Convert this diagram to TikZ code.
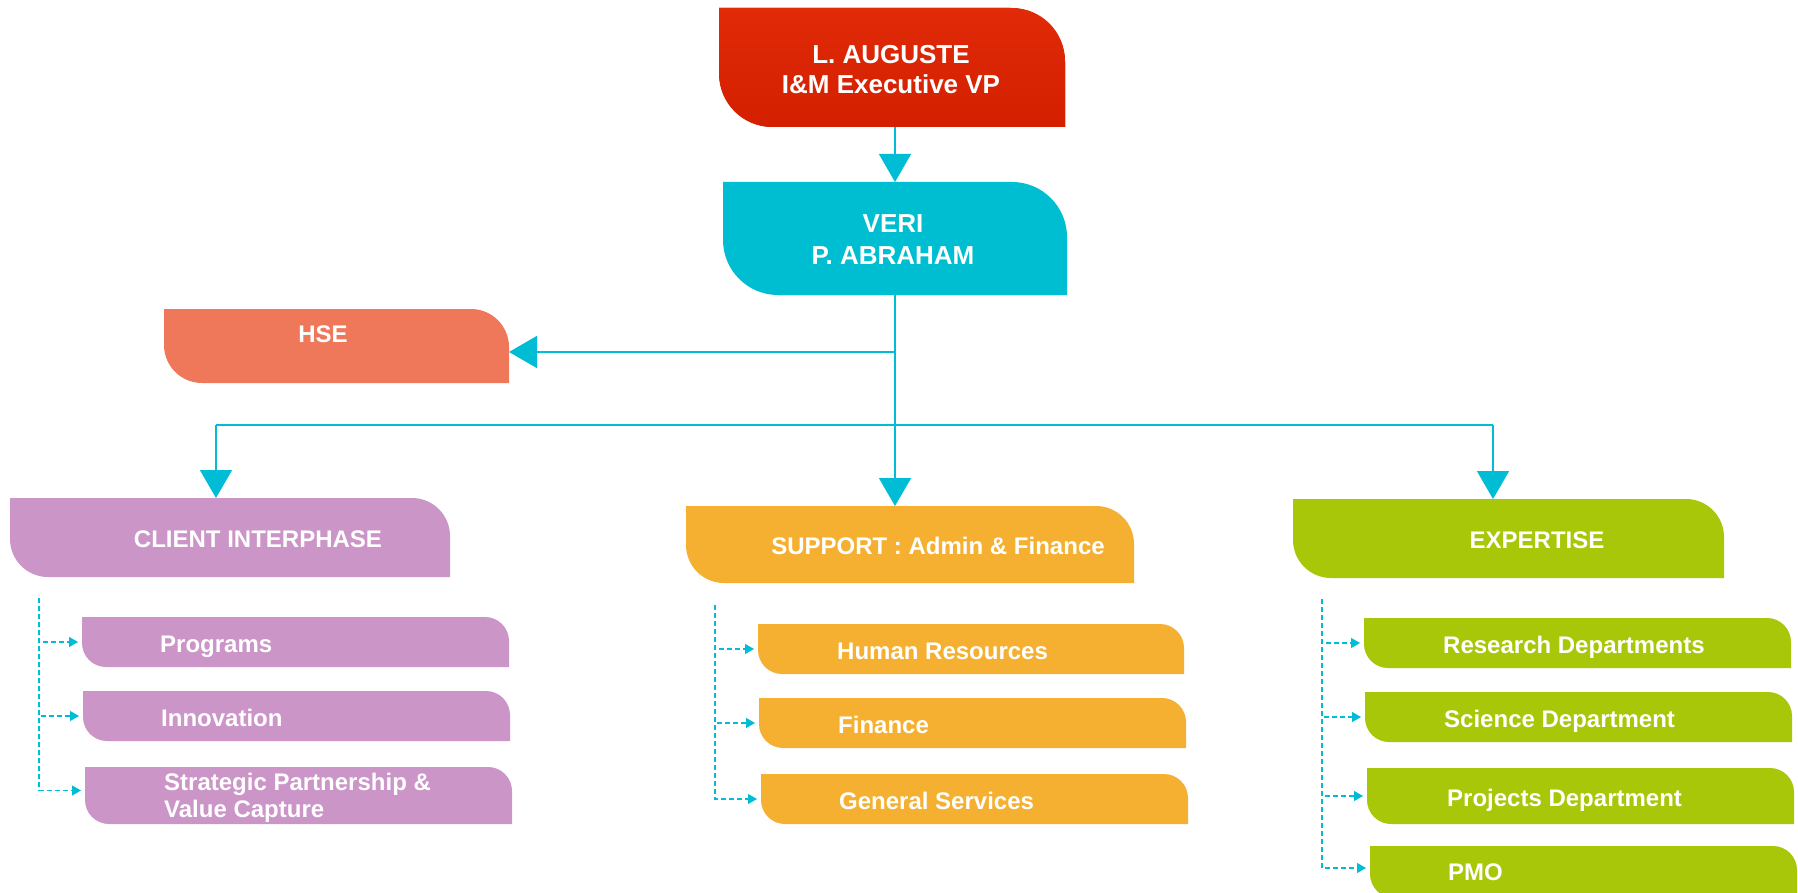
\documentclass[tikz,border=0pt]{standalone}
\usepackage{fontspec}
\setmainfont{Liberation Sans}
\usetikzlibrary{arrows.meta,calc}
\definecolor{cyanline}{HTML}{00BCD4}
\definecolor{redtop}{HTML}{E02A08}
\definecolor{redmid}{HTML}{D42000}
\definecolor{redbot}{HTML}{B81800}
\definecolor{cyanbox}{HTML}{00BED2}
\definecolor{hsebox}{HTML}{F0785A}
\definecolor{purplebox}{HTML}{CC95C8}
\definecolor{orangebox}{HTML}{F5B031}
\definecolor{greenbox}{HTML}{A8C708}
\newcommand\bx[5]{%
  \pgfmathsetmacro\bxcx{(#2+#4)/2}\pgfmathsetmacro\bxcy{(#3+#5)/2}%
  \pgfmathsetmacro\bxw{#4-#2}\pgfmathsetmacro\bxh{#5-#3}%
  \node[boxnode, minimum width=\bxw pt, minimum height=\bxh pt] (#1) at (\bxcx,\bxcy) {};}
\newcommand\orgshape[3]{%
  \path[#3] (#1.north west) -- ([xshift=-#2]#1.north east)
    .. controls ([xshift=-0.448*#2]#1.north east) and ([yshift=-0.448*#2]#1.north east) ..
    ([yshift=-#2]#1.north east) -- (#1.south east) -- ([xshift=#2]#1.south west)
    .. controls ([xshift=0.448*#2]#1.south west) and ([yshift=0.448*#2]#1.south west) ..
    ([yshift=#2]#1.south west) -- cycle;}
\begin{document}
\begin{tikzpicture}[x=1pt,y=-1pt,
  boxnode/.style={inner sep=0pt, outer sep=0pt, draw=none},
  txt/.style={text=white, inner sep=0pt, font=\fontsize{24}{27}\selectfont\bfseries},
  bigtxt/.style={text=white, inner sep=0pt, font=\fontsize{26}{30}\selectfont\bfseries},
  conn/.style={draw=cyanline, line width=1.6pt},
  bigarrow/.style={draw=cyanline, line width=1.6pt, -{Triangle[width=32pt,length=28pt]}},
  dashconn/.style={draw=cyanline, line width=1.2pt, dash pattern=on 5pt off 3pt,
     -{Triangle[width=10pt,length=9pt]}, shorten >=4pt}]
\useasboundingbox (0,0) rectangle (1798,893);
\fill[white] (0,0) rectangle (1798,893);
% boxes
\bx{red}{719}{8}{1065}{127}
\bx{cyan}{723}{182}{1067}{295}
\bx{hse}{164}{309}{509}{383}
\bx{client}{10}{498}{450}{577}
\bx{support}{686}{506}{1134}{583}
\bx{expertise}{1293}{499}{1724}{578}
\bx{programs}{82}{617}{509}{667}
\bx{innovation}{83}{691}{510}{741}
\bx{strategic}{85}{767}{512}{824}
\bx{hr}{758}{624}{1184}{674}
\bx{finance}{759}{698}{1186}{748}
\bx{gs}{761}{774}{1188}{824}
\bx{research}{1364}{618}{1791}{668}
\bx{science}{1365}{692}{1792}{742}
\bx{projects}{1367}{768}{1794}{824}
\bx{pmo}{1370}{846}{1797}{898}
% shapes
\begin{scope}[xshift=3pt,yshift=-5pt]
\orgshape{red}{55pt}{fill=black, opacity=0.18}
\end{scope}
\begin{scope}[xshift=1.5pt,yshift=-2.5pt]
\orgshape{red}{55pt}{fill=black, opacity=0.18}
\end{scope}
\orgshape{red}{55pt}{fill=redbot}
\begin{scope}[yshift=3pt]
\orgshape{red}{53pt}{top color=redtop, bottom color=redmid}
\end{scope}
\orgshape{cyan}{55pt}{fill=cyanbox}
\orgshape{hse}{38pt}{fill=hsebox}
\orgshape{client}{38pt}{fill=purplebox}
\orgshape{support}{38pt}{fill=orangebox}
\orgshape{expertise}{38pt}{fill=greenbox}
\orgshape{programs}{24pt}{fill=purplebox}
\orgshape{innovation}{24pt}{fill=purplebox}
\orgshape{strategic}{24pt}{fill=purplebox}
\orgshape{hr}{24pt}{fill=orangebox}
\orgshape{finance}{24pt}{fill=orangebox}
\orgshape{gs}{24pt}{fill=orangebox}
\orgshape{research}{24pt}{fill=greenbox}
\orgshape{science}{24pt}{fill=greenbox}
\orgshape{projects}{24pt}{fill=greenbox}
\orgshape{pmo}{24pt}{fill=greenbox}
% texts
\node[bigtxt, anchor=base] (redA) at (891,63.5) {L. AUGUSTE};
\node[bigtxt, anchor=base] (redB) at (891,94) {I\&M Executive VP};
\node[bigtxt, anchor=base] (cyanA) at (893,233) {VERI};
\node[bigtxt, anchor=base] (cyanB) at (893,265) {P. ABRAHAM};
\node[txt, anchor=base] (hseT) at (323,342) {HSE};
\node[txt, anchor=base] (clientT) at (258,547) {CLIENT INTERPHASE};
\node[txt, anchor=base] (supportT) at (938,554) {SUPPORT : Admin \& Finance};
\node[txt, anchor=base] (expertiseT) at (1537,548) {EXPERTISE};
\node[txt, anchor=base west] (programsT) at (160,652) {Programs};
\node[txt, anchor=base west] (innovationT) at (161,726) {Innovation};
\node[txt, anchor=base west] (strategicA) at (164,790) {Strategic Partnership \&};
\node[txt, anchor=base west] (strategicB) at (164,817) {Value Capture};
\node[txt, anchor=base west] (hrT) at (837,659) {Human Resources};
\node[txt, anchor=base west] (financeT) at (838,733) {Finance};
\node[txt, anchor=base west] (gsT) at (839,809) {General Services};
\node[txt, anchor=base west] (researchT) at (1443,653) {Research Departments};
\node[txt, anchor=base west] (scienceT) at (1444,727) {Science Department};
\node[txt, anchor=base west] (projectsT) at (1447,806) {Projects Department};
\node[txt, anchor=base west] (pmoT) at (1448,880) {PMO};
% connectors
\draw[bigarrow] (red.south -| cyan.north) -- (cyan.north);
\coordinate (hj) at (895,352);
\coordinate (bj) at (895,425);
\coordinate (busL) at (216,425);
\coordinate (busR) at (1493,425);
\draw[conn] (cyan.south -| hj) -- (hj);
\draw[bigarrow] (hj) -- (hj -| hse.east);
\draw[bigarrow] (hj) -- (hj |- support.north);
\draw[conn] (busL) -- (busR);
\draw[bigarrow] (busL) -- (busL |- client.north);
\draw[bigarrow] (busR) -- (busR |- expertise.north);
% dashed sub-connectors
\coordinate (cdC) at (39,598);
\coordinate (cdS) at (715,605);
\coordinate (cdE) at (1322,599);
\draw[dashconn] (cdC) |- (programs.west);
\draw[dashconn] (cdC) |- (innovation.west);
\draw[dashconn] (cdC) |- ([yshift=5pt]strategic.west);
\draw[dashconn] (cdS) |- (hr.west);
\draw[dashconn] (cdS) |- (finance.west);
\draw[dashconn] (cdS) |- (gs.west);
\draw[dashconn] (cdE) |- (research.west);
\draw[dashconn] (cdE) |- (science.west);
\draw[dashconn] (cdE) |- (projects.west);
\draw[dashconn] (cdE) |- ([yshift=4pt]pmo.west);
\end{tikzpicture}
\end{document}
